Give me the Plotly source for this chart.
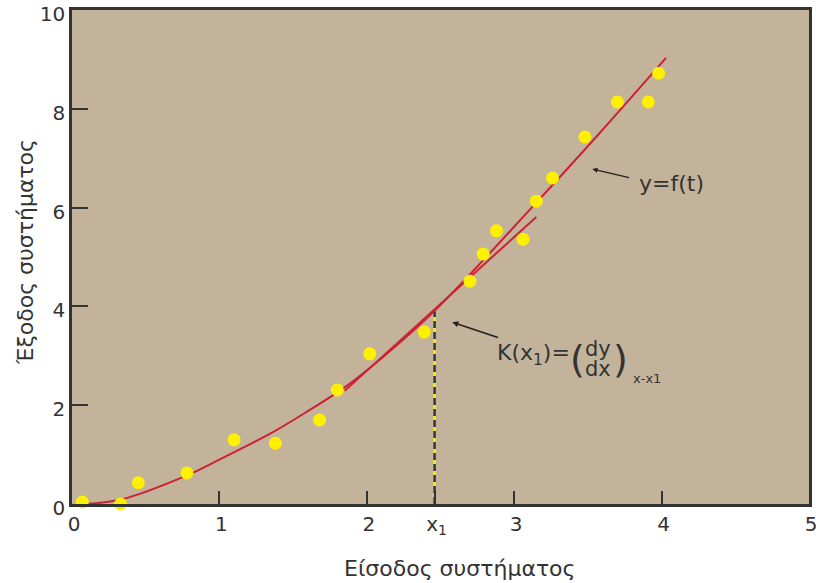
import plotly.graph_objects as go

# Data
pts_x = [0.07, 0.33, 0.45, 0.78, 1.10, 1.38, 1.68, 1.80, 2.02, 2.39, 2.70, 2.79, 2.88, 3.06, 3.15, 3.26, 3.48, 3.70, 3.91, 3.98]
pts_y = [0.04, 0.0, 0.43, 0.63, 1.30, 1.23, 1.70, 2.31, 3.04, 3.48, 4.51, 5.06, 5.53, 5.36, 6.13, 6.60, 7.43, 8.14, 8.14, 8.72]

curve_x = [0.09, 0.33, 0.78, 1.0, 1.36, 1.6, 1.85, 2.1, 2.46, 3.15, 3.58, 4.03]
curve_y = [0.0, 0.09, 0.58, 0.90, 1.45, 1.88, 2.36, 2.95, 3.91, 6.10, 7.51, 9.03]

tangent_x = [1.85, 3.15]
tangent_y = [2.29, 5.81]

x1 = 2.46
y_x1 = 3.9

x_tickvals = [0, 1, 2, x1, 3, 4, 5]
x_ticktext = ["0", "1", "2", "x<sub>1</sub>", "3", "4", "5"]
y_tickvals = [0, 2, 4, 6, 8, 10]
y_ticktext = ["0", "2", "4", "6", "8", "10"]

BG = "#c3b39b"
RED = "#cc2233"
YEL = "#fff000"
DARK = "#333333"
FONT = "DejaVu Sans, Arial, sans-serif"

fig = go.Figure()

# vertical dashed line at x1 (yellow under dark dashes)
fig.add_trace(go.Scatter(x=[x1, x1], y=[0, y_x1], mode="lines",
                         line=dict(color=YEL, width=2.5), hoverinfo="skip", showlegend=False))
fig.add_trace(go.Scatter(x=[x1, x1], y=[0, y_x1], mode="lines",
                         line=dict(color=DARK, width=2.5, dash="7px,4px"), hoverinfo="skip", showlegend=False))

fig.add_trace(go.Scatter(x=curve_x, y=curve_y, mode="lines", line_shape="spline",
                         line=dict(color=RED, width=2), showlegend=False))
fig.add_trace(go.Scatter(x=tangent_x, y=tangent_y, mode="lines",
                         line=dict(color=RED, width=2), showlegend=False))
fig.add_trace(go.Scatter(x=pts_x, y=pts_y, mode="markers", cliponaxis=False,
                         marker=dict(color=YEL, size=13, line=dict(width=0)), showlegend=False))

ann = []
# y=f(t) label and arrow
ann.append(dict(x=3.83, y=6.49, xref="x", yref="y", text="y=f(t)", showarrow=False,
                xanchor="left", yanchor="middle", font=dict(size=22, color=DARK, family=FONT)))
ann.append(dict(x=3.53, y=6.78, ax=3.79, ay=6.6, xref="x", yref="y", axref="x", ayref="y",
                text="", showarrow=True, arrowhead=2, arrowsize=0.7, arrowwidth=1.5, arrowcolor="#222"))
# K(x1) label and arrow
ann.append(dict(x=2.58, y=3.68, ax=2.90, ay=3.36, xref="x", yref="y", axref="x", ayref="y",
                text="", showarrow=True, arrowhead=2, arrowsize=0.8, arrowwidth=1.5, arrowcolor="#222"))
ann.append(dict(x=2.87, y=3.02, xref="x", yref="y", text="K(x<sub>1</sub>)=", showarrow=False,
                xanchor="left", yanchor="middle", font=dict(size=22, color=DARK, family=FONT)))
ann.append(dict(x=3.43, y=2.93, xref="x", yref="y", text="(", showarrow=False,
                xanchor="center", yanchor="middle", font=dict(size=38, color=DARK, family=FONT)))
ann.append(dict(x=3.57, y=3.14, xref="x", yref="y", text="dy", showarrow=False,
                xanchor="center", yanchor="middle", font=dict(size=21, color=DARK, family=FONT)))
ann.append(dict(x=3.57, y=2.74, xref="x", yref="y", text="dx", showarrow=False,
                xanchor="center", yanchor="middle", font=dict(size=21, color=DARK, family=FONT)))
ann.append(dict(x=3.72, y=2.93, xref="x", yref="y", text=")", showarrow=False,
                xanchor="center", yanchor="middle", font=dict(size=38, color=DARK, family=FONT)))
ann.append(dict(x=3.79, y=2.55, xref="x", yref="y", text="x-x1", showarrow=False,
                xanchor="left", yanchor="middle", font=dict(size=13, color=DARK, family=FONT)))
# axis titles
ann.append(dict(x=0.527, y=-0.13, xref="paper", yref="paper", text="Είσοδος συστήματος",
                showarrow=False, xanchor="center", yanchor="middle",
                font=dict(size=22, color=DARK, family=FONT)))
ann.append(dict(x=-0.064, y=0.51, xref="paper", yref="paper", text="Έξοδος συστήματος",
                showarrow=False, xanchor="center", yanchor="middle", textangle=-90,
                font=dict(size=22, color=DARK, family=FONT)))

fig.update_layout(
    width=816, height=583,
    margin=dict(l=72, r=7, t=10, b=79),
    paper_bgcolor="white", plot_bgcolor=BG,
    font=dict(family=FONT, color=DARK, size=21),
    annotations=ann,
    showlegend=False,
)

fig.update_xaxes(range=[0, 5], tickvals=x_tickvals, ticktext=x_ticktext,
                 ticks="inside", ticklen=13, tickwidth=2, tickcolor=DARK,
                 showline=True, linewidth=2.5, linecolor=DARK, mirror=True,
                 showgrid=False, zeroline=False, automargin=False,
                 ticklabeloverflow="allow", ticklabelshift=2,
                 tickfont=dict(size=20, color=DARK, family=FONT))
fig.update_yaxes(range=[0, 10], tickvals=y_tickvals, ticktext=y_ticktext,
                 ticks="inside", ticklen=16, tickwidth=2, tickcolor=DARK,
                 showline=True, linewidth=2.5, linecolor=DARK, mirror=True,
                 showgrid=False, zeroline=False, automargin=False,
                 ticklabeloverflow="allow", ticklabelstandoff=0, ticklabelshift=4,
                 tickfont=dict(size=20, color=DARK, family=FONT))

fig.write_html("out.html", config={"displayModeBar": False},
               post_script="document.body.style.margin='0';document.body.style.overflow='hidden';")
